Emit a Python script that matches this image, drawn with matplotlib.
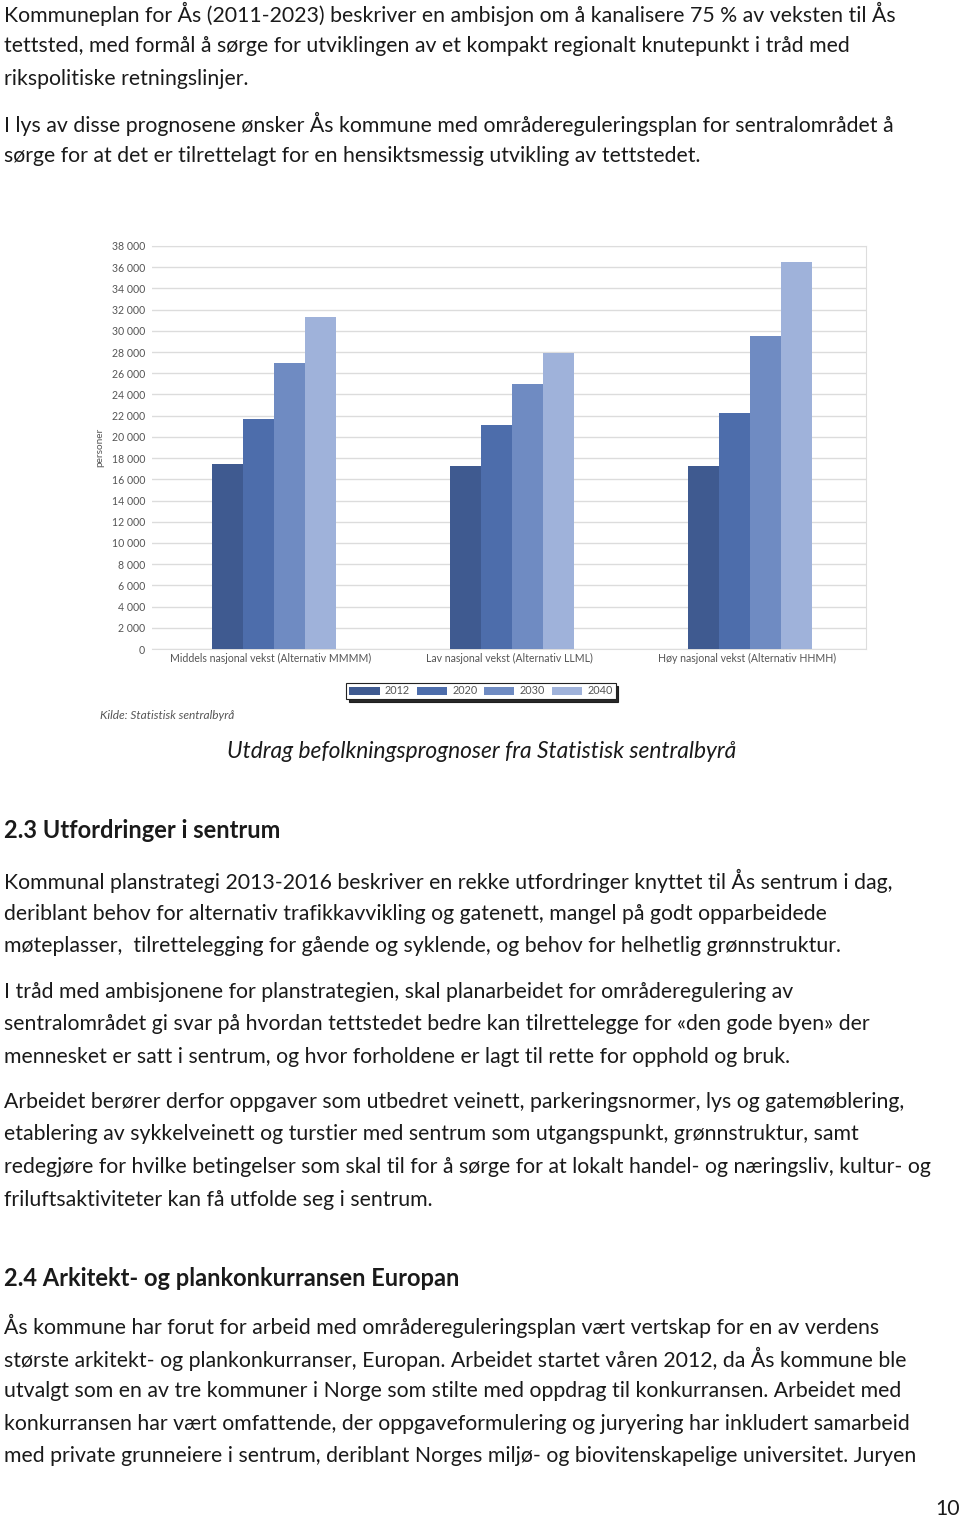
import numpy as np
import matplotlib
matplotlib.use("Agg")
import matplotlib.pyplot as plt
from matplotlib.ticker import FuncFormatter

# data (personer)
scenarios = ["Middels nasjonal vekst (Alternativ MMMM)",
             "Lav nasjonal vekst (Alternativ LLML)",
             "Høy nasjonal vekst (Alternativ HHMH)"]
years = ["2012", "2020", "2030", "2040"]
v2012 = [17400, 17300, 17300]
v2020 = [21700, 21100, 22300]
v2030 = [27000, 25000, 29500]
v2040 = [31300, 27900, 36500]
colors = ["#3f5a90", "#4d6dab", "#6f8bc2", "#9fb2da"]

yticks = list(range(0, 38001, 2000))

para1 = ["Kommuneplan for Ås (2011-2023) beskriver en ambisjon om å kanalisere 75 % av veksten til Ås",
         "tettsted, med formål å sørge for utviklingen av et kompakt regionalt knutepunkt i tråd med",
         "rikspolitiske retningslinjer."]
para2 = ["I lys av disse prognosene ønsker Ås kommune med områdereguleringsplan for sentralområdet å",
         "sørge for at det er tilrettelagt for en hensiktsmessig utvikling av tettstedet."]
caption = "Utdrag befolkningsprognoser fra Statistisk sentralbyrå"
head1 = "2.3 Utfordringer i sentrum"
para3 = ["Kommunal planstrategi 2013-2016 beskriver en rekke utfordringer knyttet til Ås sentrum i dag,",
         "deriblant behov for alternativ trafikkavvikling og gatenett, mangel på godt opparbeidede",
         "møteplasser,  tilrettelegging for gående og syklende, og behov for helhetlig grønnstruktur."]
para4 = ["I tråd med ambisjonene for planstrategien, skal planarbeidet for områderegulering av",
         "sentralområdet gi svar på hvordan tettstedet bedre kan tilrettelegge for «den gode byen» der",
         "mennesket er satt i sentrum, og hvor forholdene er lagt til rette for opphold og bruk."]
para5 = ["Arbeidet berører derfor oppgaver som utbedret veinett, parkeringsnormer, lys og gatemøblering,",
         "etablering av sykkelveinett og turstier med sentrum som utgangspunkt, grønnstruktur, samt",
         "redegjøre for hvilke betingelser som skal til for å sørge for at lokalt handel- og næringsliv, kultur- og",
         "friluftsaktiviteter kan få utfolde seg i sentrum."]
head2 = "2.4 Arkitekt- og plankonkurransen Europan"
para6 = ["Ås kommune har forut for arbeid med områdereguleringsplan vært vertskap for en av verdens",
         "største arkitekt- og plankonkurranser, Europan. Arbeidet startet våren 2012, da Ås kommune ble",
         "utvalgt som en av tre kommuner i Norge som stilte med oppdrag til konkurransen. Arbeidet med",
         "konkurransen har vært omfattende, der oppgaveformulering og juryering har inkludert samarbeid",
         "med private grunneiere i sentrum, deriblant Norges miljø- og biovitenskapelige universitet. Juryen"]

W, H = 960, 1519
fig = plt.figure(figsize=(W / 100, H / 100), dpi=100)
plt.rcParams['font.family'] = ['Lato', 'DejaVu Sans']

fs = 15.3
txtcol = "#1a1a1a"

def put(lines, y0, step=32.5, **kw):
    for i, s in enumerate(lines):
        fig.text(4 / W, 1 - (y0 + i * step) / H, s, fontsize=kw.get('size', fs),
                 va='center', ha='left', color=txtcol,
                 fontweight=kw.get('weight', 'normal'))

put(para1, 14)
put(para2, 124)
fig.text(482 / W, 1 - 751 / H, caption, fontsize=16.4, style='italic',
         ha='center', va='center', color=txtcol)
put([head1], 831, weight='bold', size=17)
put(para3, 881)
put(para4, 992)
put(para5, 1102)
put([head2], 1279, weight='bold', size=17)
put(para6, 1326)
fig.text(948 / W, 1 - 1509 / H, "10", fontsize=fs, ha='center', va='center', color=txtcol)

# chart
ax = fig.add_axes([152 / W, (H - 649) / H, 714 / W, 403 / H])
x = np.arange(len(scenarios))
bw = 0.13
series = [v2012, v2020, v2030, v2040]
for i, vals in enumerate(series):
    ax.bar(x + (i - 1.5) * bw + 0.012, vals, bw, color=colors[i], label=years[i], zorder=3)

ax.set_xlim(-0.5, 2.5)
ax.set_ylim(0, 38000)
ax.set_yticks(yticks)
ax.yaxis.set_major_formatter(FuncFormatter(lambda v, p: f"{int(v):,}".replace(",", " ")))
ax.grid(axis='y', color='#dcdcdc', lw=1, zorder=0)
ax.set_xticks(x)
ax.set_xticklabels(scenarios)
ax.tick_params(length=0, labelsize=7.6, colors='#555555', pad=3)
ax.tick_params(axis='y', pad=5)
for s in ax.spines.values():
    s.set_color('#dddddd')
ax.spines['left'].set_visible(False)
ax.set_ylabel("personer", fontsize=7.2, color='#555555', labelpad=5)

leg = ax.legend(loc='center', bbox_to_anchor=((481 - 152) / 714, -42 / 403), ncol=4,
                fontsize=7.8, frameon=True, fancybox=False, edgecolor='#222222',
                shadow={'color': '#111111', 'alpha': 0.9, 'ox': 2, 'oy': -2},
                handlelength=2.8, handleheight=0.8, handletextpad=0.5,
                columnspacing=0.6, borderpad=0.25, labelcolor='#555555')
leg.get_frame().set_linewidth(0.8)

fig.text(100 / W, 1 - 715 / H, "Kilde: Statistisk sentralbyrå", fontsize=8.6,
         style='italic', color='#555555', ha='left', va='center')

fig.savefig("out.png", dpi=100, facecolor='white')
